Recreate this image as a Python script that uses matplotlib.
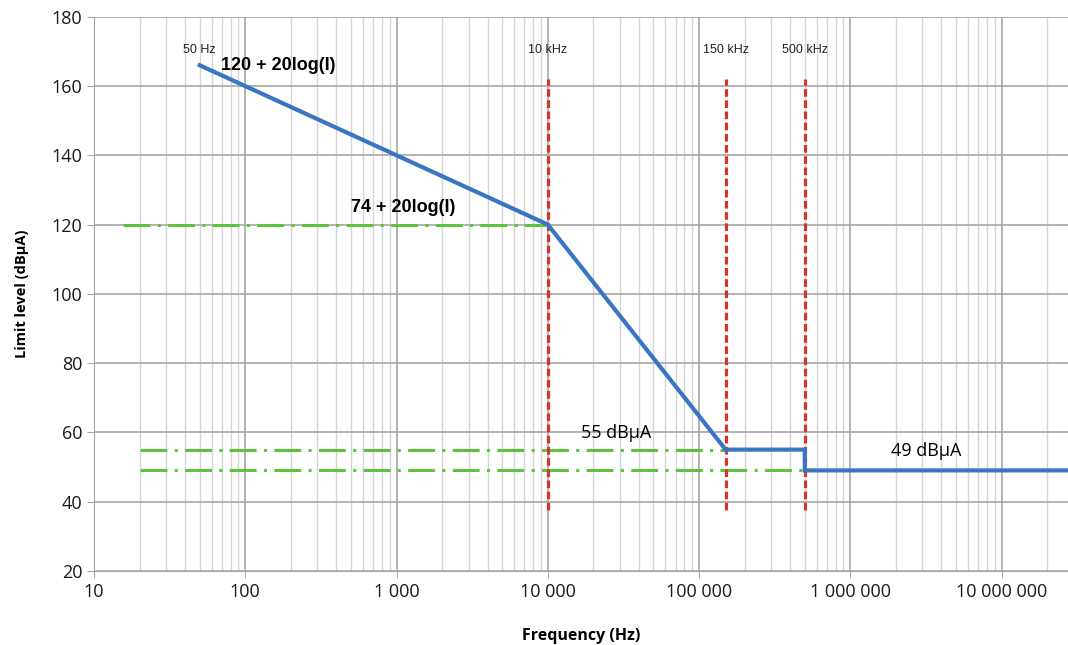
import numpy as np
import matplotlib
matplotlib.use("Agg")
import matplotlib.pyplot as plt
from matplotlib.ticker import FixedLocator, LogLocator, NullFormatter

# ===== Data =====
limit_freq = [50, 10000, 150000, 500000, 500000, 2.75e7]
limit_level = [166, 120, 55, 55, 49, 49]

green_levels = [120, 55, 49]
green_start = [15.5, 20, 20]
green_end = [10000, 150000, 500000]

marker_freqs = [10000, 150000, 500000]
marker_labels = ["10 kHz", "150 kHz", "500 kHz"]
marker_span = (37.5, 162)

xticks = [10, 100, 1000, 10000, 100000, 1000000, 10000000]
xtick_labels = ["10", "100", "1 000", "10 000", "100 000", "1 000 000", "10 000 000"]
yticks = [20, 40, 60, 80, 100, 120, 140, 160, 180]

BLUE = "#3a75c4"
GREEN = "#5cc43c"
RED = "#d4352b"

# ===== Figure =====
fig = plt.figure(figsize=(10.68, 6.45), dpi=100)
ax = fig.add_axes([0.088, 0.115, 0.912, 0.859])

ax.set_xscale("log")
ax.set_xlim(10, 2.75e7)
ax.set_ylim(20, 180)

# grid
ax.xaxis.set_major_locator(FixedLocator(xticks))
ax.xaxis.set_minor_locator(LogLocator(base=10, subs=np.arange(2, 10)))
ax.xaxis.set_minor_formatter(NullFormatter())
ax.set_xticklabels(xtick_labels)
ax.set_yticks(yticks)
ax.grid(True, which="major", color="#a6a6a6", linewidth=1.2)
ax.grid(True, which="minor", axis="x", color="#d4d4d4", linewidth=1.0)
ax.set_axisbelow(True)
ax.tick_params(axis="both", which="major", length=5, color="#a6a6a6",
               labelsize=13, labelcolor="#1a1a1a")
ax.tick_params(axis="x", which="minor", length=0)
for lbl in ax.get_xticklabels() + ax.get_yticklabels():
    lbl.set_family("Open Sans")
for side in ["top", "right"]:
    ax.spines[side].set_visible(False)
for side in ["left", "bottom"]:
    ax.spines[side].set_color("#a6a6a6")

# ===== Lines =====
for lvl, x0, x1 in zip(green_levels, green_start, green_end):
    ax.plot([x0, x1], [lvl, lvl], color=GREEN, linewidth=2.2,
            dashes=(8.8, 2.4, 1.0, 2.4), zorder=3)

for f in marker_freqs:
    ax.plot([f, f], marker_span, color=RED, linewidth=2.3,
            dashes=(2.4, 1.1), zorder=4)

ax.plot(limit_freq, limit_level, color=BLUE, linewidth=3, zorder=5,
        solid_joinstyle="miter")

# ===== Annotations =====
ax.text(50, 170.5, "50 Hz", fontsize=9, ha="center", va="center",
        family="Liberation Sans", color="#222222")
for f, lab in zip(marker_freqs, marker_labels):
    ax.text(f, 170.5, lab, fontsize=9, ha="center", va="center",
            family="Liberation Sans", color="#222222")

ax.text(69, 166, "120 + 20log(I)", fontsize=13, fontweight="bold",
        ha="left", va="center", family="Liberation Sans")
ax.text(500, 124.8, "74 + 20log(I)", fontsize=13, fontweight="bold",
        ha="left", va="center", family="Liberation Sans")
ax.text(16500, 59.8, "55 dB\u03bcA", fontsize=13, ha="left", va="center",
        family="Open Sans")
ax.text(1.85e6, 54.6, "49 dB\u03bcA", fontsize=13, ha="left", va="center",
        family="Open Sans")

ax.set_xlabel("Frequency (Hz)", fontsize=11.5, fontweight="bold",
              family="Open Sans", labelpad=20)
ax.set_ylabel("Limit level (dB\u00b5A)", fontsize=10.5, fontweight="bold",
              family="Open Sans", labelpad=16)

fig.savefig("out.png", dpi=100)
